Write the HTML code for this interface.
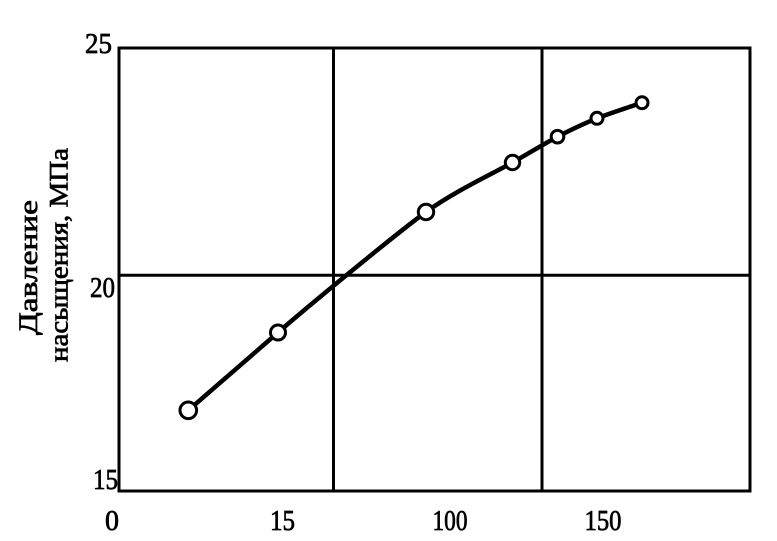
<!DOCTYPE html>
<html>
<head>
<meta charset="utf-8">
<style>
  html, body { margin: 0; padding: 0; background: #fff; }
  svg { display: block; }
  text { font-family: "Liberation Serif", "Noto Serif CJK SC", serif; fill: #000; }
</style>
</head>
<body>
<svg width="777" height="541" viewBox="0 0 777 541" xmlns="http://www.w3.org/2000/svg">
  <rect x="0" y="0" width="777" height="541" fill="#fff"/>

  <!-- grid lines -->
  <line x1="333.5" y1="48" x2="333.5" y2="491" stroke="#000" stroke-width="3"/>
  <line x1="542" y1="48" x2="542" y2="491" stroke="#000" stroke-width="3"/>
  <line x1="119" y1="275.3" x2="750" y2="275.3" stroke="#000" stroke-width="3"/>

  <!-- frame -->
  <rect x="119" y="48" width="631" height="443" fill="none" stroke="#000" stroke-width="3"/>

  <!-- curve -->
  <path d="M188.3,410.3 C199.5,400.6 248.3,358.3 278,332.5 C307.7,306.7 396.7,233.2 426,212 C455.3,190.8 496.1,171.9 512.5,162.5 C528.9,153.1 546.9,142.2 557.5,136.7 C568.1,131.2 586.4,122.6 597,118.3 C607.6,114.0 636.4,104.6 642,102.7"
        fill="none" stroke="#000" stroke-width="4.5" stroke-linecap="round" stroke-linejoin="round"/>

  <!-- markers -->
  <g fill="#fff" stroke="#000" stroke-width="3">
    <circle cx="188.3" cy="410.3" r="8.3"/>
    <circle cx="278" cy="332.5" r="7.5"/>
    <circle cx="426" cy="212" r="7.7"/>
    <circle cx="512.5" cy="162.5" r="7.2"/>
    <circle cx="557.5" cy="136.7" r="6.3"/>
    <circle cx="597" cy="118.3" r="6"/>
    <circle cx="642" cy="102.7" r="6"/>
  </g>

  <!-- y tick labels -->
  <g font-size="28" stroke="#000" stroke-width="0.7">
    <text x="112" y="53" text-anchor="end" textLength="27" lengthAdjust="spacingAndGlyphs">25</text>
    <text x="115" y="297" text-anchor="end" textLength="25" lengthAdjust="spacingAndGlyphs">20</text>
    <text x="118" y="489" text-anchor="end" textLength="25" lengthAdjust="spacingAndGlyphs">15</text>
  </g>

  <!-- x tick labels -->
  <g font-size="28" stroke="#000" stroke-width="0.7" text-anchor="middle">
    <text x="112" y="530">0</text>
    <text x="282.5" y="530" textLength="25" lengthAdjust="spacingAndGlyphs">15</text>
    <text x="450" y="530" textLength="35" lengthAdjust="spacingAndGlyphs">100</text>
    <text x="603" y="530" textLength="37" lengthAdjust="spacingAndGlyphs">150</text>
  </g>

  <!-- y axis label -->
  <g font-size="26" stroke="#000" stroke-width="0.7" text-anchor="middle">
    <text transform="translate(37,267.5) rotate(-90)" textLength="135" lengthAdjust="spacingAndGlyphs">Давление</text>
    <text transform="translate(67.5,255) rotate(-90)" textLength="214" lengthAdjust="spacingAndGlyphs">насыщения, МПа</text>
  </g>
</svg>
</body>
</html>
